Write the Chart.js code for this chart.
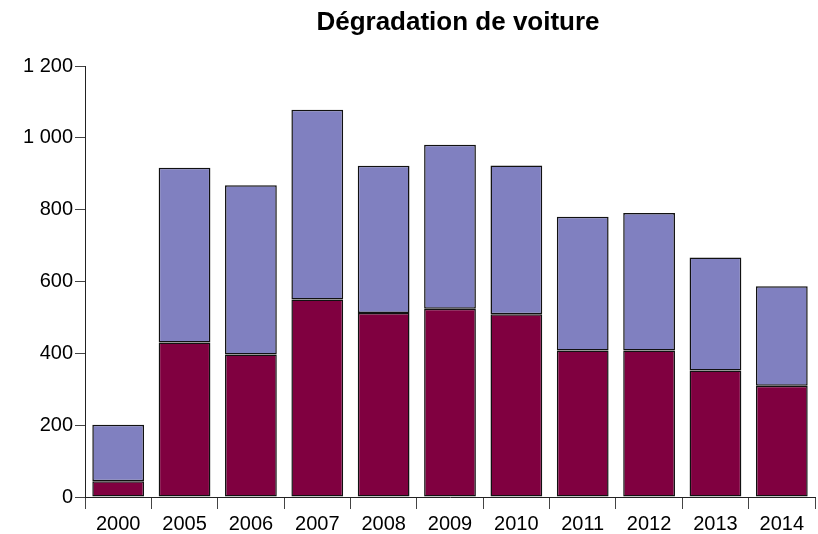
<!DOCTYPE html>
<html>
<head>
<meta charset="utf-8">
<script src="https://cdn.jsdelivr.net/npm/chart.js@4/dist/chart.umd.min.js"></script>
<style>
  body { margin: 0; background: #fff; }
</style>
</head>
<body>
<canvas id="chart" width="818" height="534"></canvas>
<script>
const years = ["2000", "2005", "2006", "2007", "2008", "2009", "2010", "2011", "2012", "2013", "2014"];
const lowerValues = [44, 430, 397, 550, 512, 524, 509, 408, 408, 352, 310];
const upperValues = [157, 487, 471, 528, 410, 457, 414, 372, 383, 315, 277];
const yTickLabels = ["0", "200", "400", "600", "800", "1 000", "1 200"];
const chartTitle = "Dégradation de voiture";

const font = { family: "'Liberation Sans', Arial, sans-serif", size: 20 };

// title drawn by hand so it sits where the original has it
const titlePlugin = {
  id: "manualTitle",
  afterDraw(c) {
    const ctx = c.ctx;
    ctx.save();
    ctx.font = "bold 26px 'Liberation Sans', Arial, sans-serif";
    ctx.fillStyle = "#000";
    ctx.textAlign = "center";
    ctx.textBaseline = "alphabetic";
    ctx.fillText(chartTitle, 458, 30);
    ctx.restore();
  }
};

new Chart(document.getElementById("chart"), {
  type: "bar",
  data: {
    labels: years,
    datasets: [{
      data: lowerValues,
      backgroundColor: "#800040",
      borderColor: "#111",
      borderWidth: 1.5,
      borderSkipped: false
    }, {
      data: upperValues,
      backgroundColor: "#8080c0",
      borderColor: "#111",
      borderWidth: 1.5,
      borderSkipped: false
    }]
  },
  options: {
    responsive: false,
    animation: false,
    layout: { padding: { top: 66, right: 3, bottom: 0, left: 0 } },
    datasets: { bar: { barPercentage: 0.78, categoryPercentage: 1 } },
    plugins: {
      legend: { display: false },
      tooltip: { enabled: false }
    },
    scales: {
      x: {
        stacked: true,
        afterFit(scale) { scale.height = 37; },
        grid: { offset: true, drawOnChartArea: false, tickLength: 12, tickColor: "#444" },
        border: { color: "#222" },
        ticks: { color: "#000", font: font, padding: 3, maxRotation: 0 }
      },
      y: {
        stacked: true,
        min: 0,
        max: 1200,
        afterFit(scale) { scale.width = 85; },
        grid: { drawOnChartArea: false, tickLength: 10, tickColor: "#444" },
        border: { color: "#222" },
        ticks: {
          stepSize: 200,
          color: "#000",
          font: font,
          padding: 2,
          callback: (v) => yTickLabels[v / 200]
        }
      }
    }
  },
  plugins: [titlePlugin]
});
</script>
</body>
</html>
